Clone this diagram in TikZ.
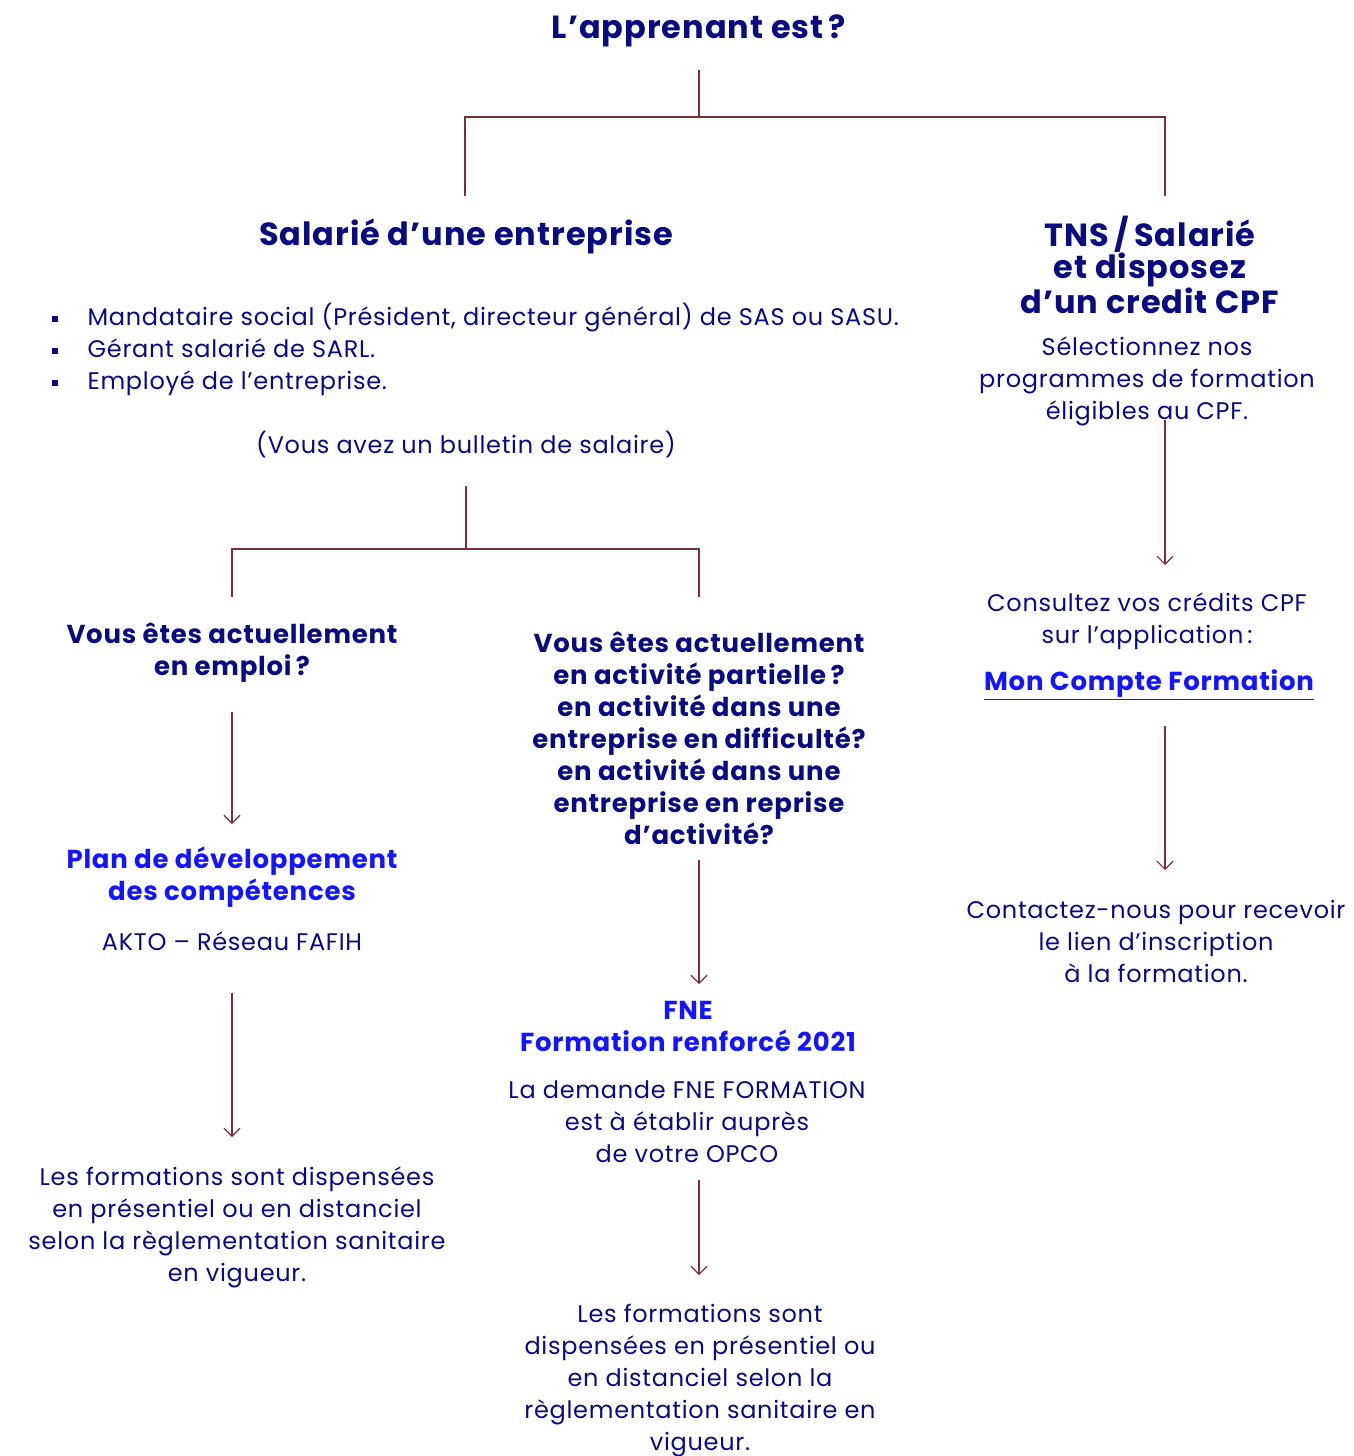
\documentclass[tikz,border=0pt]{standalone}
\usepackage{fontspec}
\setmainfont{Poppins}[LetterSpace=3]
\usetikzlibrary{arrows.meta}
\definecolor{navy}{HTML}{0B0B80}
\definecolor{vivid}{HTML}{1414FF}
\definecolor{wine}{HTML}{7A2F3A}
\newcommand{\bul}{\makebox[36pt][l]{\rule[3pt]{6pt}{6pt}}}

\begin{document}
\begin{tikzpicture}[x=1pt, y=-1pt,
		t/.style={align=center, text=navy, font=\fontsize{24}{32}\selectfont},
		h/.style={align=center, text=navy, font=\fontsize{26}{32}\selectfont\bfseries},
		hb/.style={h, text=vivid},
		big/.style={align=center, text=navy, font=\fontsize{32}{32}\selectfont\bfseries},
		l/.style={draw=wine, line width=1.2pt},
		a/.style={l, -{Straight Barb[length=8pt, width=16pt]}}]
		\useasboundingbox (0,0) rectangle (1353,1456);

		\node[big] (q) at (699,31) {L’apprenant est\,?};
		\node[big] (sal) at (466,236) {Salarié d’une entreprise};
		\node[t, align=left, anchor=west] (list) at (48,349) {\bul Mandataire social (Président, directeur général) de SAS ou SASU.\\ \bul Gérant salarié de SARL.\\ \bul Employé de l’entreprise.};
		\node[t] (bull) at (466,445) {(Vous avez un bulletin de salaire)};
		\node[big] (tns) at (1150,265) {TNS\,/\,Salarié\\et disposez\\d’un credit CPF};
		\node[t] (sel) at (1147,381) {Sélectionnez nos\\programmes de formation\\éligibles au CPF.};

		\node[h] (emp) at (232,653) {Vous êtes actuellement\\en emploi\,?};
		\node[hb] (plan) at (232,877) {Plan de développement\\des compétences};
		\node[t] (akto) at (232,941) {AKTO – Réseau FAFIH};
		\node[t] (f1) at (237,1227) {Les formations sont dispensées\\en présentiel ou en distanciel\\selon la règlementation sanitaire\\en vigueur.};

		\node[h] (part) at (699,738) {Vous êtes actuellement\\en activité partielle\,?\\en activité dans une\\entreprise en difficulté?\\en activité dans une\\entreprise en reprise\\d'activité?};
		\node[hb] (fne) at (688,1026) {FNE\\Formation renforcé 2021};
		\node[t] (dem) at (687,1122) {La demande FNE FORMATION\\est à établir auprès\\de votre OPCO};
		\node[t] (f2) at (700,1381) {Les formations sont\\dispensées en présentiel ou\\en distanciel selon la\\règlementation sanitaire en\\vigueur.};

		\node[t] (cons) at (1147,621) {Consultez vos crédits CPF\\sur l’application\,:};
		\node[hb] (mcf) at (1149,685) {\underline{Mon Compte Formation}};
		\node[t] (cont) at (1156,941) {Contactez-nous pour recevoir\\le lien d’inscription\\à la formation.};

		% tree
		\coordinate (q1) at (699,70);
		\coordinate (q2) at (699,117);
		\coordinate (s0) at (465,196);
		\coordinate (n0) at (1165,196);
		\draw[l] (q1) -- (q2) -| (s0);
		\draw[l] (q2) -| (n0);

		\coordinate (b1) at (466,486);
		\coordinate (b2) at (466,549);
		\coordinate (e0) at (232,597);
		\coordinate (p0) at (699,597);
		\draw[l] (b1) -- (b2) -| (e0);
		\draw[l] (b2) -| (p0);

		% arrows
		\coordinate (emp1) at (232,712);
		\coordinate (plan0) at (232,824);
		\coordinate (akto1) at (232,993);
		\coordinate (f10) at (232,1137);
		\coordinate (part1) at (699,860);
		\coordinate (fne0) at (699,984);
		\coordinate (dem1) at (699,1180);
		\coordinate (f20) at (699,1275);
		\coordinate (sel1) at (1165,420);
		\coordinate (cons0) at (1165,565);
		\coordinate (mcf1) at (1165,726);
		\coordinate (cont0) at (1165,870);
		\draw[a] (emp1) -- (plan0);
		\draw[a] (akto1) -- (f10);
		\draw[a] (part1) -- (fne0);
		\draw[a] (dem1) -- (f20);
		\draw[a] (sel1) -- (cons0);
		\draw[a] (mcf1) -- (cont0);
	\end{tikzpicture}
\end{document}
